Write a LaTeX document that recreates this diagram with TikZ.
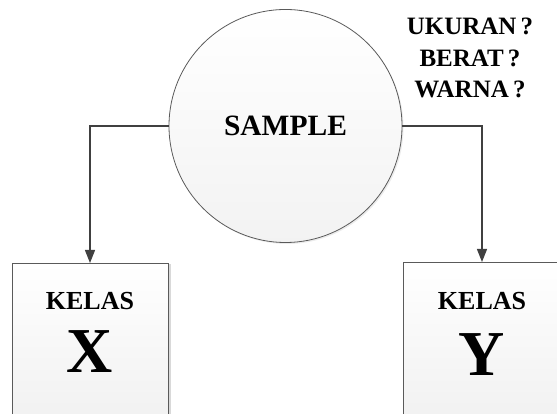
\documentclass[tikz,border=0pt]{standalone}
\usepackage{fontspec}
\setmainfont{Liberation Serif}
\usetikzlibrary{arrows.meta,shadows}
\definecolor{edgegray}{HTML}{5A5A5A}
\definecolor{linegray}{HTML}{404040}
\tikzset{
  boxshape/.style={draw=edgegray, line width=0.8pt, top color=white, bottom color=black!6,
    drop shadow={shadow xshift=3pt, shadow yshift=-1pt, fill=black!25, opacity=0.6}},
  circshape/.style={draw=edgegray, line width=0.8pt, circle, minimum size=233pt, inner sep=0pt,
    top color=white, bottom color=black!5,
    drop shadow={shadow xshift=1.5pt, shadow yshift=-1.5pt, fill=black!15, opacity=0.5}},
  conn/.style={draw=linegray, line width=1.4pt, -{Triangle[width=10pt,length=13pt]}},
  lbl/.style={font=\bfseries, text=black, inner sep=0pt}
}
\begin{document}
\begin{tikzpicture}[x=1pt,y=1pt]
\useasboundingbox (0,0) rectangle (557,414);
% boxes
\path[boxshape] (12,-20) rectangle (168,151);
\path[boxshape] (403,-20) rectangle (580,152);
\coordinate (boxXtop) at (90,151);
\coordinate (boxYtop) at (482,152);
% circle
\node[circshape] (sample) at (285.5,288) {};
\node[lbl, font=\fontsize{29.5}{34}\selectfont\bfseries] (sampletxt) at (285.5,288) {SAMPLE};
% connectors
\coordinate (bendL) at (90,288);
\coordinate (bendR) at (482,288);
\draw[conn] (sample.west) -- (bendL) -- (boxXtop);
\draw[conn] (sample.east) -- (bendR) -- (boxYtop);
% questions
\node[lbl, align=center, font=\fontsize{25}{31.5}\selectfont\bfseries] (questions) at (470,356)
  {UKURAN\,?\\BERAT\,?\\WARNA\,?};
% box labels
\node[lbl, font=\fontsize{26}{30}\selectfont\bfseries] (kelasX) at (90,113) {KELAS};
\node[lbl, font=\fontsize{64}{70}\selectfont\bfseries] (X) at (90,62) {X};
\node[lbl, font=\fontsize{26}{30}\selectfont\bfseries] (kelasY) at (482,113) {KELAS};
\node[lbl, font=\fontsize{64}{70}\selectfont\bfseries] (Y) at (482,59) {Y};
\end{tikzpicture}
\end{document}
